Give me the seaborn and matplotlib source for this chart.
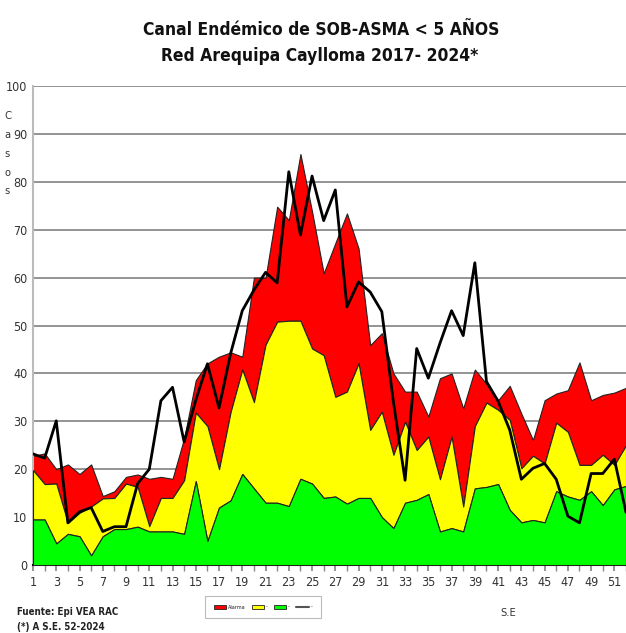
import matplotlib
matplotlib.use("Agg")
import matplotlib.pyplot as plt
import seaborn as sns
from matplotlib.patches import Patch
from matplotlib.lines import Line2D

sns.set_theme(style="white")
plt.rcParams['font.family'] = ['DejaVu Sans']
plt.rcParams['font.stretch'] = 'condensed'

# semanas epidemiologicas
semanas = list(range(1, 53))

# limites superiores de cada zona (acumulados)
exito = [9.5, 9.5, 4.5, 6.5, 6, 2, 6, 7.5, 7.5, 8,
         7, 7, 7, 6.5, 17.5, 5, 12, 13.5, 19, 16,
         13, 13, 12.3, 18, 17, 14, 14.3, 12.8, 14, 14,
         10, 7.7, 13, 13.6, 14.8, 7, 7.7, 7, 16, 16.3,
         16.9, 11.5, 8.9, 9.4, 8.9, 15.4, 14.3, 13.6, 15.4, 12.5,
         15.8, 16.5]
seguridad = [19.8, 16.9, 17, 8.8, 10.9, 12.2, 13.9, 14, 17, 16.3,
             8.1, 14, 14, 17.7, 31.8, 29, 20, 32, 40.8, 34,
             46, 50.8, 51, 51, 45.2, 43.8, 35.1, 36.2, 42.1, 28.2,
             32, 23, 29.9, 24, 26.8, 17.9, 26.8, 12.2, 29, 33.9,
             32.4, 30.3, 20.2, 22.8, 21.2, 29.7, 27.8, 20.9, 20.9, 23,
             20.9, 25]
alarma = [22.8, 23.3, 20, 21, 19, 21, 14.4, 15.4, 18.4, 18.9,
          18, 18.4, 18, 26.5, 38.6, 42.1, 43.5, 44.4, 43.5, 60,
          60, 74.8, 72, 85.8, 73.8, 60.9, 67.2, 73.4, 66.1, 45.9,
          48.4, 40, 36.2, 36.2, 31, 39, 40, 32.7, 40.8, 37.8,
          34.4, 37.4, 31.6, 26.1, 34.4, 35.8, 36.5, 42.3, 34.4, 35.5,
          36, 37]
casos_2024 = [23.2, 22.3, 30.1, 8.8, 11.1, 12, 7, 8, 8, 17,
              20, 34.3, 37.1, 25.7, 34.4, 42, 32.8, 44.2, 53.1, 57.4,
              61.1, 58.9, 82.1, 68.9, 81.2, 71.9, 78.3, 53.9, 59.1, 57,
              52.9, 34, 17.7, 45.2, 39, 46.3, 53.1, 47.9, 63.1, 38.3,
              34.2, 28.2, 17.9, 20.2, 21.2, 17.9, 10.2, 8.8, 19.1, 19.1,
              22.1, 11]

fig = plt.figure(figsize=(6.26, 6.33), dpi=100)
ax = fig.add_axes([0.0527, 0.1074, 0.9473, 0.7567])

edge = dict(edgecolor='#222222', linewidth=0.8)
ax.fill_between(semanas, seguridad, alarma, color='#ff0000', zorder=2, **edge)
ax.fill_between(semanas, exito, seguridad, color='#ffff00', zorder=3, **edge)
ax.fill_between(semanas, 0, exito, color='#00ff00', zorder=4, **edge)
sns.lineplot(x=semanas, y=casos_2024, color='black', linewidth=2.0, ax=ax, zorder=5)

ax.set_xlim(1, 51.34)
ax.set_ylim(0, 100)
ax.set_yticks(range(0, 101, 10))
ax.set_xticks(range(1, 53, 2))
ax.set_xticks(range(1, 53), minor=True)
ax.yaxis.grid(True, color='#777777', linewidth=1.1, zorder=1)
ax.set_axisbelow(True)
ax.tick_params(axis='y', length=0, labelsize=9, labelcolor='#333333', pad=4)
ax.tick_params(axis='x', which='both', direction='out', length=4, color='#888888',
               bottom=True, labelsize=9, labelcolor='#333333', pad=4)

for s in ['top', 'right']:
    ax.spines[s].set_visible(False)
ax.spines['left'].set_color('#bbbbbb')
ax.spines['left'].set_linewidth(1.5)
ax.spines['bottom'].set_color('black')
ax.spines['bottom'].set_linewidth(1.5)
ax.set_xlabel('')
ax.set_ylabel('')

fig.text(0.513, 0.953, 'Canal Endémico de SOB-ASMA < 5 AÑOS', ha='center', va='center',
         fontsize=12.5, fontweight='bold', color='#111111')
fig.text(0.51, 0.912, 'Red Arequipa Caylloma 2017- 2024*', ha='center', va='center',
         fontsize=12.5, fontweight='bold', color='#111111')
fig.text(0.012, 0.757, 'C\na\ns\no\ns', ha='center', va='center', fontsize=8,
         color='#333333', linespacing=2.1)

fig.text(0.027, 0.033, 'Fuente: Epi VEA RAC', ha='left', va='center', fontsize=7,
         fontweight='bold', color='#222222')
fig.text(0.027, 0.01, '(*) A S.E. 52-2024', ha='left', va='center', fontsize=7,
         fontweight='bold', color='#222222')
fig.text(0.80, 0.031, 'S.E', ha='left', va='center', fontsize=8, color='#333333')

handles = [Patch(facecolor='#ff0000', edgecolor='#222222', linewidth=0.6),
           Patch(facecolor='#ffff00', edgecolor='#222222', linewidth=0.6),
           Patch(facecolor='#00ff00', edgecolor='#222222', linewidth=0.6),
           Line2D([0], [0], color='#555555', linewidth=1.5)]
leg = fig.legend(handles, ['Alarma', '-', '-', '-'], loc='center',
                 bbox_to_anchor=(0.42, 0.041), ncol=4, fontsize=4,
                 frameon=True, fancybox=False, handlelength=2.2, handleheight=0.8,
                 columnspacing=1.2, handletextpad=0.3, borderpad=1.6)
leg.get_frame().set_edgecolor('#aaaaaa')
leg.get_frame().set_linewidth(0.8)

fig.savefig('out.png', dpi=100)
